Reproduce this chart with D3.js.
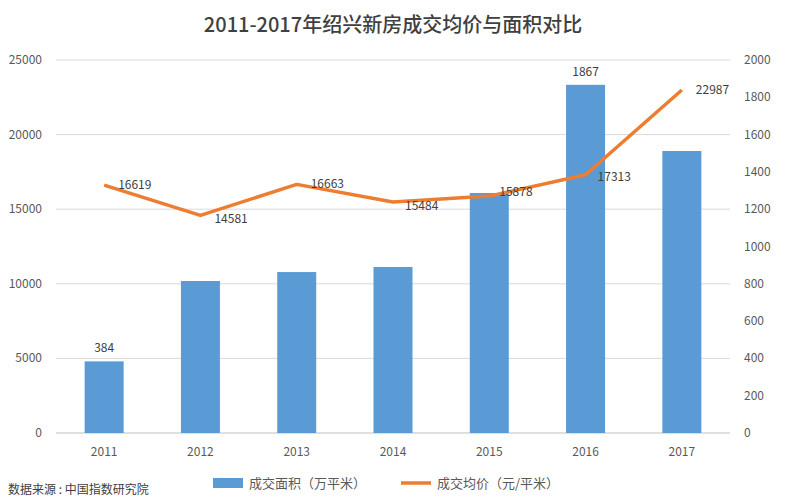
<!DOCTYPE html>
<html><head><meta charset="utf-8">
<script src="https://cdn.jsdelivr.net/npm/d3@7"></script>
<style>body{margin:0;background:#fff;font-family:"Noto Sans CJK SC","Noto Sans",sans-serif}</style>
</head><body><svg id="c" width="786" height="502"></svg>
<script>
const years = ['2011','2012','2013','2014','2015','2016','2017'];
const area = [384, 815, 863, 890, 1287, 1867, 1512];      // 成交面积 (万平米), right axis
const areaLabels = ['384', '', '', '', '', '1867', ''];
const price = [16619, 14581, 16663, 15484, 15878, 17313, 22987]; // 成交均价, left axis
const leftTicks = [0, 5000, 10000, 15000, 20000, 25000];
const rightTicks = [0, 200, 400, 600, 800, 1000, 1200, 1400, 1600, 1800, 2000];

const svg = d3.select('#c');
const m = { top: 60, right: 56, bottom: 69, left: 56 };
const W = 786, H = 502;

const x = d3.scaleBand().domain(years).range([m.left, W - m.right]);
const yL = d3.scaleLinear().domain([0, 25000]).range([H - m.bottom, m.top]);
const yR = d3.scaleLinear().domain([0, 2000]).range([H - m.bottom, m.top]);

svg.append('text').attr('x', W / 2).attr('y', 32).attr('text-anchor', 'middle')
  .attr('font-size', 20).attr('font-weight', 500).attr('fill', '#404040')
  .text('2011-2017年绍兴新房成交均价与面积对比');

svg.append('g').selectAll('line').data(leftTicks).join('line')
  .attr('x1', m.left).attr('x2', W - m.right)
  .attr('y1', d => yL(d)).attr('y2', d => yL(d))
  .attr('stroke', d => d === 0 ? '#bfbfbf' : '#d9d9d9');

const tick = { fill: '#595959', 'font-size': 12 };
svg.append('g').selectAll('text').data(leftTicks).join('text')
  .attr('x', 42).attr('y', d => yL(d) + 4).attr('text-anchor', 'end')
  .attr('fill', tick.fill).attr('font-size', tick['font-size']).text(d => d);
svg.append('g').selectAll('text').data(rightTicks).join('text')
  .attr('x', 744).attr('y', d => yR(d) + 4)
  .attr('fill', tick.fill).attr('font-size', tick['font-size']).text(d => d);
svg.append('g').selectAll('text').data(years).join('text')
  .attr('x', d => x(d) + x.bandwidth() / 2).attr('y', H - m.bottom + 23).attr('text-anchor', 'middle')
  .attr('fill', tick.fill).attr('font-size', tick['font-size']).text(d => d);

const bw = 39;
svg.append('g').selectAll('rect').data(area).join('rect')
  .attr('x', (d, i) => x(years[i]) + x.bandwidth() / 2 - bw / 2)
  .attr('width', bw).attr('y', d => yR(d)).attr('height', d => yR(0) - yR(d))
  .attr('fill', '#5b9bd5');
svg.append('g').selectAll('text').data(area).join('text')
  .attr('x', (d, i) => x(years[i]) + x.bandwidth() / 2).attr('y', d => yR(d) - 9)
  .attr('text-anchor', 'middle').attr('fill', '#404040').attr('font-size', 12)
  .text((d, i) => areaLabels[i]);

const line = d3.line().x((d, i) => x(years[i]) + x.bandwidth() / 2).y(d => yL(d));
svg.append('path').datum(price).attr('d', line).attr('fill', 'none')
  .attr('stroke', '#ed7d31').attr('stroke-width', 3.5).attr('stroke-linejoin', 'round');
const off = [[14, 4], [14, 8], [14, 4], [12, 8], [10, 0], [12, 6], [14, 4]];
svg.append('g').selectAll('text').data(price).join('text')
  .attr('x', (d, i) => x(years[i]) + x.bandwidth() / 2 + off[i][0])
  .attr('y', (d, i) => yL(d) + off[i][1])
  .attr('fill', '#404040').attr('font-size', 12).text(d => d);

svg.append('text').attr('x', 8).attr('y', 494).attr('font-size', 12).attr('fill', '#404040')
  .text('数据来源 : 中国指数研究院');
svg.append('rect').attr('x', 213).attr('y', 478).attr('width', 30).attr('height', 10).attr('fill', '#5b9bd5');
svg.append('text').attr('x', 249).attr('y', 488).attr('font-size', 13).attr('fill', '#595959').text('成交面积（万平米）');
svg.append('line').attr('x1', 401).attr('x2', 431).attr('y1', 483).attr('y2', 483)
  .attr('stroke', '#ed7d31').attr('stroke-width', 3.5);
svg.append('text').attr('x', 437).attr('y', 488).attr('font-size', 13).attr('fill', '#595959').text('成交均价（元/平米）');
</script></body></html>
